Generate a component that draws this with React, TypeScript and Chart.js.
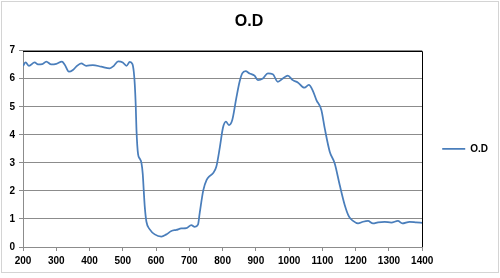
import React, { useEffect, useRef } from "react";
import { Chart, registerables } from "chart.js";

Chart.register(...registerables);

const wavelength = [
  200, 208, 218, 235, 245, 258, 270, 285, 300, 317, 325, 338, 350, 360, 375, 390,
  410, 435, 461, 473, 486, 500, 511, 521, 529, 533, 536, 539, 541, 546, 551, 556,
  560, 563, 566, 571, 581, 596, 616, 631, 646, 661, 676, 691, 706, 716, 726, 731,
  742, 752, 761, 771, 781, 792, 801, 810, 819, 829, 841, 851, 859, 869, 881, 896,
  906, 921, 936, 951, 966, 981, 996, 1011, 1026, 1046, 1059, 1071, 1082, 1097, 1107, 1122,
  1137, 1152, 1167, 1180, 1192, 1207, 1222, 1237, 1252, 1267, 1287, 1307, 1327, 1340, 1362, 1382,
  1400,
];
const od = [
  6.46, 6.58, 6.46, 6.58, 6.51, 6.52, 6.61, 6.51, 6.53, 6.61, 6.51, 6.25, 6.31, 6.43, 6.55, 6.46,
  6.49, 6.43, 6.37, 6.46, 6.62, 6.58, 6.46, 6.60, 6.52, 6.25, 5.80, 5.0, 4.2, 3.30, 3.15, 3.00,
  2.60, 2.00, 1.44, 0.90, 0.63, 0.45, 0.37, 0.45, 0.57, 0.61, 0.66, 0.67, 0.78, 0.72, 0.80, 1.20,
  2.03, 2.39, 2.53, 2.63, 2.86, 3.58, 4.25, 4.47, 4.35, 4.53, 5.30, 5.89, 6.19, 6.27, 6.19, 6.11,
  5.95, 6.01, 6.19, 6.16, 5.89, 6.01, 6.11, 5.95, 5.87, 5.68, 5.78, 5.58, 5.24, 4.88, 4.23, 3.40,
  2.98, 2.21, 1.50, 1.08, 0.93, 0.84, 0.90, 0.93, 0.84, 0.88, 0.90, 0.87, 0.93, 0.84, 0.90, 0.88,
  0.86,
];
const seriesName = "O.D";
const chartTitle = "O.D";
const xTicks = [200, 300, 400, 500, 600, 700, 800, 900, 1000, 1100, 1200, 1300, 1400];
const yTicks = [0, 1, 2, 3, 4, 5, 6, 7];

const FONT = "'Liberation Sans', Arial, sans-serif";

const framePlugin = {
  id: "frame",
  beforeDraw(chart: any) {
    const ctx = chart.ctx;
    ctx.save();
    ctx.fillStyle = "#ffffff";
    ctx.fillRect(0, 0, chart.width, chart.height);
    ctx.strokeStyle = "#d4d4d4";
    ctx.lineWidth = 1;
    ctx.strokeRect(1.5, 1.5, 497, 271);
    ctx.restore();
  },
  afterDatasetsDraw(chart: any) {
    const { ctx, chartArea } = chart;
    ctx.save();
    ctx.strokeStyle = "#000000";
    ctx.lineWidth = 1;
    ctx.beginPath();
    const t = Math.round(chartArea.top) + 0.5;
    const r = Math.round(chartArea.right) + 0.5;
    ctx.moveTo(chartArea.left, t);
    ctx.lineTo(r, t);
    ctx.lineTo(r, chartArea.bottom);
    ctx.stroke();
    ctx.restore();
  },
};

export default function App() {
  const ref = useRef<HTMLCanvasElement>(null);
  useEffect(() => {
    document.body.style.margin = "0";
    const chart = new Chart(ref.current!, {
      type: "line",
      data: {
        datasets: [
          {
            label: seriesName,
            data: wavelength.map((x, i) => ({ x, y: od[i] })),
            borderColor: "#4a7ebb",
            backgroundColor: "#4a7ebb",
            borderWidth: 1.75,
            pointRadius: 0,
            cubicInterpolationMode: "monotone",
            fill: false,
          },
        ],
      },
      options: {
        responsive: false,
        animation: false,
        layout: { padding: { left: 0, right: 2, top: 0, bottom: 0 } },
        plugins: {
          title: {
            display: true,
            text: chartTitle,
            color: "#000",
            font: { family: FONT, size: 16, weight: "bold" },
            padding: { top: 12, bottom: 19.5 },
          },
          legend: {
            position: "right",
            fullSize: false,
            labels: {
              usePointStyle: true,
              pointStyle: "line",
              pointStyleWidth: 23,
              padding: 20,
              color: "#000",
              font: { family: FONT, size: 10, weight: "bold" },
            },
          },
          tooltip: { enabled: false },
        },
        scales: {
          x: {
            type: "linear",
            min: 200,
            max: 1400,
            afterBuildTicks: (s: any) => {
              s.ticks = xTicks.map((v) => ({ value: v }));
            },
            afterFit: (s: any) => {
              s.height = 31;
            },
            ticks: {
              color: "#000",
              font: { family: FONT, size: 10, weight: "bold" },
              padding: 4,
              maxRotation: 0,
              autoSkip: false,
              callback: (v: any) => String(v),
            },
            grid: {
              drawOnChartArea: false,
              drawTicks: true,
              tickLength: 4,
              color: "#8c8c8c",
            },
            border: { color: "#8c8c8c" },
          },
          y: {
            min: 0,
            max: 7,
            afterBuildTicks: (s: any) => {
              s.ticks = yTicks.map((v) => ({ value: v }));
            },
            afterFit: (s: any) => {
              s.width = 23;
            },
            ticks: {
              color: "#000",
              font: { family: FONT, size: 10, weight: "bold" },
              padding: 4,
              callback: (v: any) => String(v),
            },
            grid: {
              drawTicks: true,
              tickLength: 4,
              color: "#8c8c8c",
            },
            border: { color: "#8c8c8c" },
          },
        },
      },
      plugins: [framePlugin],
    } as any);
    return () => chart.destroy();
  }, []);
  return <canvas ref={ref} width={500} height={278} style={{ display: "block" }} />;
}
